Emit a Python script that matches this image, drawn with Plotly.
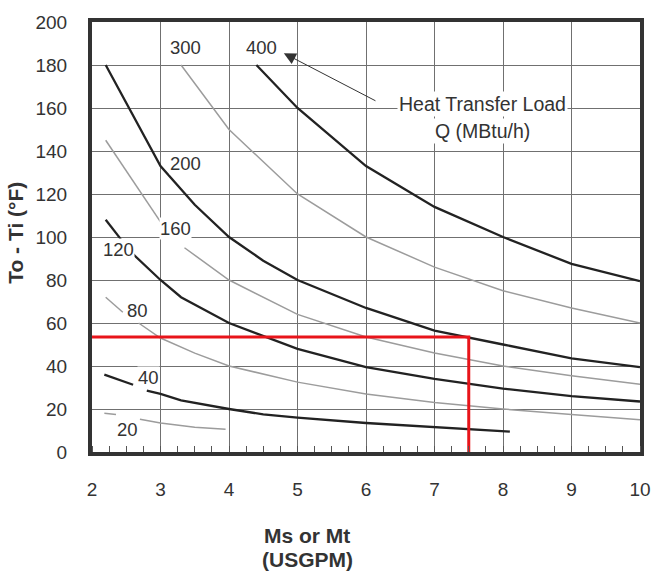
import plotly.graph_objects as go

# Flow rate (USGPM) and temperature difference (°F).
# None entries mark the gaps where the curve labels sit.
q400_x = [4.4, 5, 6, 7, 8, 9, 10]
q400_y = [180, 160, 133, 114, 100, 87.5, 79.5]

q300_x = [3.3, 4, 5, 6, 7, 8, 9, 10]
q300_y = [180, 150, 120, 100, 86, 75, 67, 60]

q200_x = [2.2, 3, 3.5, 4, 4.5, 5, 6, 7, 8, 9, 10]
q200_y = [180, 133, 115, 100, 89, 80, 67, 56.5, 50, 43.5, 39.5]

q160_x = [2.2, 3.0, None, 3.35, 4, 5, 6, 7, 8, 9, 10]
q160_y = [145, 107, None, 95, 80, 64, 53.5, 46, 40, 35.5, 31.5]

q120_x = [2.2, 2.42, None, 2.6, 3, 3.3, 4, 5, 6, 7, 8, 9, 10]
q120_y = [108, 99, None, 92, 80, 72, 60, 48, 39.5, 34, 29.5, 26, 23.5]

q80_x = [2.2, 2.45, None, 2.68, 3, 3.5, 4, 5, 6, 7, 8, 9, 10]
q80_y = [72, 65, None, 60, 53, 46, 40, 32.5, 27, 23, 20, 17.5, 15]

q40_x = [2.18, 2.6, None, 2.8, 3, 3.3, 4, 4.5, 5, 6, 7, 8.1]
q40_y = [36, 31.3, None, 28.5, 27, 24, 20, 17.5, 16, 13.5, 11.5, 9.5]

q20_x = [2.18, 2.35, None, 2.7, 3, 3.5, 3.95]
q20_y = [18, 17.5, None, 15.2, 13.5, 11.5, 10.6]

red_x = [2, 7.5, 7.5]
red_y = [53.5, 53.5, 0]

curve_labels = ["400", "300", "200", "160", "120", "80", "40", "20"]
label_x = [4.48, 3.36, 3.36, 3.22, 2.39, 2.66, 2.82, 2.52]
label_y = [188, 188, 134, 104, 94, 65.7, 34.5, 10.6]
label_bg = [False, False, True, True, True, True, True, True]

x_ticks = [2, 3, 4, 5, 6, 7, 8, 9, 10]
y_ticks = [0, 20, 40, 60, 80, 100, 120, 140, 160, 180, 200]

FONT = "Liberation Sans, Arial, sans-serif"
BLACK = "#222222"
GRAY = "#9c9c9c"
TXT = "#333333"

fig = go.Figure()

def add_curve(xs, ys, color, width):
    fig.add_trace(go.Scatter(x=xs, y=ys, mode="lines", connectgaps=False,
                             line=dict(color=color, width=width),
                             hoverinfo="skip", showlegend=False))

add_curve(q20_x, q20_y, GRAY, 1.5)
add_curve(q80_x, q80_y, GRAY, 1.5)
add_curve(q160_x, q160_y, GRAY, 1.5)
add_curve(q300_x, q300_y, GRAY, 1.5)
add_curve(q40_x, q40_y, BLACK, 2.3)
add_curve(q120_x, q120_y, BLACK, 2.3)
add_curve(q200_x, q200_y, BLACK, 2.3)
add_curve(q400_x, q400_y, BLACK, 2.3)

fig.add_trace(go.Scatter(x=red_x, y=red_y, mode="lines",
                         line=dict(color="#e8141a", width=3),
                         hoverinfo="skip", showlegend=False))

for t, lx, ly, bg in zip(curve_labels, label_x, label_y, label_bg):
    fig.add_annotation(x=lx, y=ly, text=t, showarrow=False,
                       xanchor="center", yanchor="middle",
                       font=dict(family=FONT, size=18.5, color=TXT),
                       bgcolor="white" if bg else "rgba(0,0,0,0)",
                       borderpad=0)

# arrow pointing to the 400 label
fig.add_annotation(x=4.8, y=185.5, ax=6.16, ay=163, xref="x", yref="y",
                   axref="x", ayref="y", text="", showarrow=True,
                   arrowhead=2, arrowsize=2.4, arrowwidth=1, arrowcolor="#333")

fig.add_annotation(x=7.7, y=161.8, text="Heat Transfer Load", showarrow=False,
                   xanchor="center", yanchor="middle",
                   font=dict(family=FONT, size=19.5, color=TXT),
                   bgcolor="white", borderpad=1)
fig.add_annotation(x=7.7, y=149.4, text="Q (MBtu/h)", showarrow=False,
                   xanchor="center", yanchor="middle",
                   font=dict(family=FONT, size=19.5, color=TXT),
                   bgcolor="white", borderpad=1)

# axis titles (plot area spans 92..649 px horizontally, 17..452 px vertically)
PW, PH = 557.0, 435.0
fig.add_annotation(xref="paper", yref="paper", x=(14 - 92) / PW, y=(452 - 230) / PH,
                   xanchor="center", yanchor="middle",
                   text="<b>To - Ti (°F)</b>", textangle=-90, showarrow=False,
                   font=dict(family=FONT, size=21, color=TXT))
fig.add_annotation(xref="paper", yref="paper", x=(311 - 92) / PW, y=(452 - 536) / PH,
                   xanchor="center", yanchor="middle",
                   text="<b>Ms or Mt</b>", showarrow=False,
                   font=dict(family=FONT, size=21, color=TXT))
fig.add_annotation(xref="paper", yref="paper", x=(311 - 92) / PW, y=(452 - 561) / PH,
                   xanchor="center", yanchor="middle",
                   text="<b>(USGPM)</b>", showarrow=False,
                   font=dict(family=FONT, size=21, color=TXT))

fig.update_layout(
    width=663, height=575,
    margin=dict(l=92, r=14, t=17, b=123),
    paper_bgcolor="white", plot_bgcolor="white",
    font=dict(family=FONT, size=19, color=TXT),
    xaxis=dict(range=[2, 10], tickvals=x_ticks, showgrid=True,
               gridcolor="#707070", gridwidth=1, zeroline=False,
               showline=True, linecolor="#333", linewidth=4, mirror=True,
               ticks="", ticklabelstandoff=17,
               minor=dict(dtick=0.25, ticks="inside", ticklen=6,
                          tickcolor="#555", tickwidth=1, showgrid=False),
               tickfont=dict(family=FONT, size=19, color=TXT)),
    yaxis=dict(range=[0, 200], tickvals=y_ticks, showgrid=True,
               gridcolor="#707070", gridwidth=1, zeroline=False,
               showline=True, linecolor="#333", linewidth=4, mirror=True,
               ticks="", ticklabelstandoff=17,
               tickfont=dict(family=FONT, size=19, color=TXT)),
)

fig.write_html("out.html")
